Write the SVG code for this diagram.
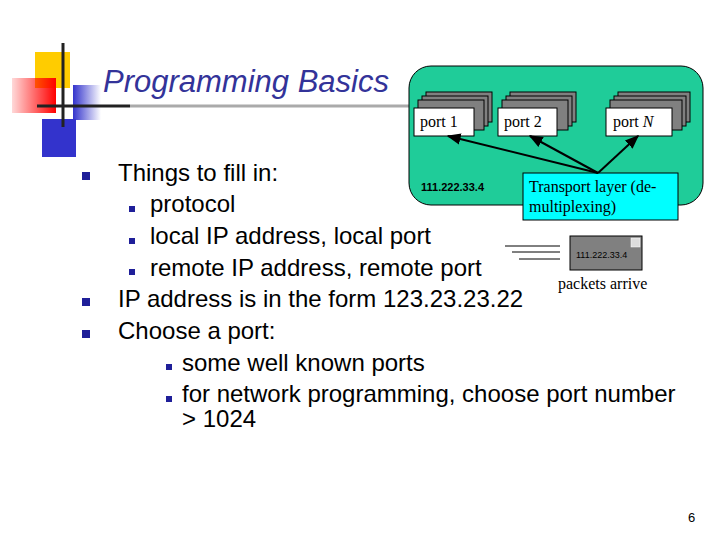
<svg xmlns="http://www.w3.org/2000/svg" width="720" height="540" viewBox="0 0 720 540">
<defs>
<linearGradient id="rg" x1="1" y1="0" x2="0" y2="0"><stop offset="0" stop-color="#f00"/><stop offset="1" stop-color="#f00" stop-opacity="0.15"/></linearGradient>
<linearGradient id="bg" x1="0" y1="0" x2="1" y2="0"><stop offset="0" stop-color="#3333cc"/><stop offset="1" stop-color="#3333cc" stop-opacity="0"/></linearGradient>
<marker id="ah" viewBox="0 0 10 10" refX="9" refY="5" markerWidth="7" markerHeight="7" orient="auto"><path d="M0,1 L10,5 L0,9 z" fill="#000"/></marker>
</defs>
<style>
.t{font-family:"Liberation Sans",Arial,sans-serif;font-size:24px;fill:#000}
.s{font-family:"Liberation Serif","Times New Roman",serif;font-size:16px;fill:#000}
.b{fill:#1f1f99}
.sh{fill:#808080;stroke:#000;stroke-width:1}
.pb{fill:#fff;stroke:#000;stroke-width:1}
</style>
<rect width="720" height="540" fill="#fff"/>
<g id="logo">
<rect x="35" y="52" width="35" height="36" fill="#ffcc00"/>
<rect x="12" y="78" width="44" height="35" fill="url(#rg)"/>
<rect x="73" y="85" width="28" height="35" fill="url(#bg)"/>
<rect x="42" y="119" width="34" height="38" fill="#3333cc"/>
<line x1="63" y1="43" x2="63" y2="127" stroke="#222" stroke-width="3"/>
<line x1="37" y1="106" x2="130" y2="106" stroke="#222" stroke-width="3"/>
<line x1="130" y1="106" x2="410" y2="106" stroke="#aaa" stroke-width="3"/>
</g>
<text x="103" y="92" font-family="Liberation Sans,Arial,sans-serif" font-size="31" font-style="italic" fill="#333399">Programming Basics</text>
<g id="host">
<rect x="409" y="66" width="294" height="139" rx="22" fill="#1fcc99" stroke="#000" stroke-width="1"/>
<text x="421" y="191" font-family="Liberation Sans,Arial,sans-serif" font-size="11" font-weight="bold">111.222.33.4</text>
</g>
<g id="port1">
<rect class="sh" x="426" y="92" width="66" height="30"/><rect class="sh" x="422" y="96" width="66" height="30"/><rect class="sh" x="418" y="100" width="66" height="30"/>
<rect class="pb" x="414" y="108" width="60" height="28"/><text class="s" x="420" y="127">port 1</text>
</g>
<g id="port2">
<rect class="sh" x="510" y="92" width="66" height="30"/><rect class="sh" x="506" y="96" width="66" height="30"/><rect class="sh" x="502" y="100" width="66" height="30"/>
<rect class="pb" x="498" y="108" width="59" height="28"/><text class="s" x="504" y="127">port 2</text>
</g>
<g id="portN">
<rect class="sh" x="618" y="92" width="72" height="30"/><rect class="sh" x="614" y="96" width="72" height="30"/><rect class="sh" x="610" y="100" width="72" height="30"/>
<rect class="pb" x="606" y="108" width="66" height="28"/><text class="s" x="613" y="127">port <tspan font-style="italic">N</tspan></text>
</g>
<g id="transport">
<rect x="523" y="173" width="155" height="47" fill="#00ffff" stroke="#000" stroke-width="1"/>
<text class="s" x="529" y="192">Transport layer (de-</text>
<text class="s" x="529" y="212">multiplexing)</text>
</g>
<g id="connectors" stroke="#000" stroke-width="2" marker-end="url(#ah)">
<line x1="598" y1="173" x2="448" y2="136"/>
<line x1="598" y1="173" x2="530" y2="136"/>
<line x1="598" y1="173" x2="638" y2="136"/>
</g>
<g id="packet">
<line x1="505" y1="246" x2="560" y2="246" stroke="#000"/>
<line x1="512" y1="252" x2="560" y2="252" stroke="#000"/>
<line x1="519" y1="259" x2="560" y2="259" stroke="#000"/>
<rect x="570" y="236" width="72" height="34" fill="#808080" stroke="#000"/>
<rect x="631" y="238" width="9" height="9" fill="#ddd" stroke="#fff" stroke-width="0.5"/>
<text x="576" y="258" font-family="Liberation Sans,Arial,sans-serif" font-size="9">111.222.33.4</text>
<text class="s" x="558" y="289" font-size="14">packets arrive</text>
</g>
<g id="bullets">
<rect class="b" x="82" y="172" width="8" height="8"/>
<rect class="b" x="82" y="298" width="8" height="8"/>
<rect class="b" x="82" y="330" width="8" height="8"/>
<rect class="b" x="129" y="206" width="6" height="6"/>
<rect class="b" x="129" y="238" width="6" height="6"/>
<rect class="b" x="129" y="269" width="6" height="6"/>
<rect class="b" x="166" y="364" width="6" height="6"/>
<rect class="b" x="166" y="396" width="6" height="6"/>
<text class="t" x="118" y="181">Things to fill in:</text>
<text class="t" x="150" y="212">protocol</text>
<text class="t" x="150" y="244">local IP address, local port</text>
<text class="t" x="150" y="276">remote IP address, remote port</text>
<text class="t" x="118" y="307">IP address is in the form 123.23.23.22</text>
<text class="t" x="118" y="339">Choose a port:</text>
<text class="t" x="182" y="371">some well known ports</text>
<text class="t" x="182" y="402">for network programming, choose port number</text>
<text class="t" x="182" y="427">&gt; 1024</text>
</g>
<text x="688" y="522" font-family="Liberation Sans,Arial,sans-serif" font-size="13">6</text>
</svg>
